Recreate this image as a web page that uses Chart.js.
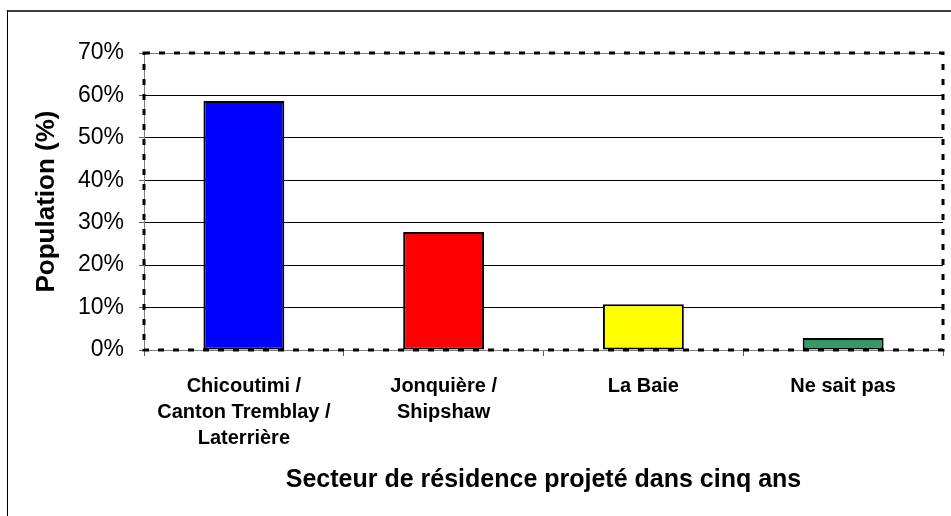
<!DOCTYPE html>
<html>
<head>
<meta charset="utf-8">
<script src="https://cdn.jsdelivr.net/npm/chart.js@4/dist/chart.umd.min.js"></script>
<style>
    html, body { margin: 0; padding: 0; background: #ffffff; }
    #wrap { width: 951px; height: 516px; position: relative; }
</style>
</head>
<body>
<div id="wrap"><canvas id="secteurChart"></canvas></div>
<script>
// Data
const categories = [
    ['Chicoutimi /', 'Canton Tremblay /', 'Laterrière'],
    ['Jonquière /', 'Shipshaw'],
    'La Baie',
    'Ne sait pas'
];
const populationPct = [58.7, 27.8, 10.8, 2.8];
const barColors = ['#0000ff', '#ff0000', '#ffff00', '#339966'];
const yTickValues = [0, 10, 20, 30, 40, 50, 60, 70];
const xAxisTitle = 'Secteur de résidence projeté dans cinq ans';
const yAxisTitle = 'Population (%)';

const FONT = "Arial, 'Liberation Sans', Helvetica, sans-serif";

// Outer frame + dashed plot border (Excel style)
const framePlugin = {
    id: 'frame',
    beforeDraw(chart) {
        const ctx = chart.ctx;
        ctx.save();
        ctx.fillStyle = '#ffffff';
        ctx.fillRect(0, 0, chart.width, chart.height);
        ctx.strokeStyle = '#404040';
        ctx.lineWidth = 2;
        ctx.beginPath();
        ctx.moveTo(7, 11);
        ctx.lineTo(chart.width, 11);
        ctx.stroke();
        ctx.strokeStyle = '#000000';
        ctx.lineWidth = 1;
        ctx.beginPath();
        ctx.moveTo(7.5, 10);
        ctx.lineTo(7.5, chart.height);
        ctx.stroke();
        ctx.restore();
    },
    beforeDatasetsDraw(chart) {
        const a = chart.chartArea;
        const ctx = chart.ctx;
        ctx.save();
        ctx.strokeStyle = '#000000';
        ctx.lineWidth = 3;
        ctx.setLineDash([6, 9]);
        ctx.strokeRect(a.left, a.top, a.right - a.left, a.bottom - a.top);
        ctx.restore();
    }
};

function initChart() {
    const ctx = document.getElementById('secteurChart').getContext('2d');
    new Chart(ctx, {
        type: 'bar',
        data: {
            labels: categories,
            datasets: [{
                data: populationPct,
                backgroundColor: barColors,
                borderColor: '#000000',
                borderWidth: 2,
                borderSkipped: false,
                barPercentage: 0.405,
                categoryPercentage: 1
            }]
        },
        options: {
            responsive: true,
            maintainAspectRatio: false,
            animation: false,
            devicePixelRatio: 1,
            layout: { padding: { top: 53, right: 8, left: 0, bottom: 0 } },
            plugins: {
                legend: { display: false },
                tooltip: { enabled: false }
            },
            scales: {
                x: {
                    afterFit(scale) { scale.height = 166; },
                    grid: {
                        offset: true,
                        drawOnChartArea: false,
                        drawTicks: true,
                        tickLength: 6,
                        color: '#606060'
                    },
                    border: { display: true, color: '#808080', width: 1 },
                    ticks: {
                        color: '#000000',
                        padding: 17,
                        maxRotation: 0,
                        autoSkip: false,
                        font: { family: FONT, size: 20, weight: 'bold', lineHeight: 1.3 }
                    },
                    title: {
                        display: true,
                        text: xAxisTitle,
                        color: '#000000',
                        padding: { top: 0, bottom: 21 },
                        font: { family: FONT, size: 25, weight: 'bold' }
                    }
                },
                y: {
                    min: 0,
                    max: 70,
                    afterFit(scale) { scale.width = 144; },
                    afterBuildTicks(scale) {
                        scale.ticks = yTickValues.map(v => ({ value: v }));
                    },
                    grid: {
                        color: ctx => (ctx.tick && (ctx.tick.value === 0 || ctx.tick.value === 70)) ? '#808080' : '#000000',
                        lineWidth: 1,
                        tickLength: 5,
                        tickColor: '#606060'
                    },
                    border: { display: true, color: '#808080', width: 1 },
                    ticks: {
                        color: '#000000',
                        padding: 15,
                        font: { family: FONT, size: 23 },
                        callback: v => v + '%'
                    },
                    title: {
                        display: true,
                        text: yAxisTitle,
                        color: '#000000',
                        padding: { top: 31, bottom: 0 },
                        font: { family: FONT, size: 26, weight: 'bold' }
                    }
                }
            }
        },
        plugins: [framePlugin]
    });
}

window.onload = initChart;
</script>
</body>
</html>
